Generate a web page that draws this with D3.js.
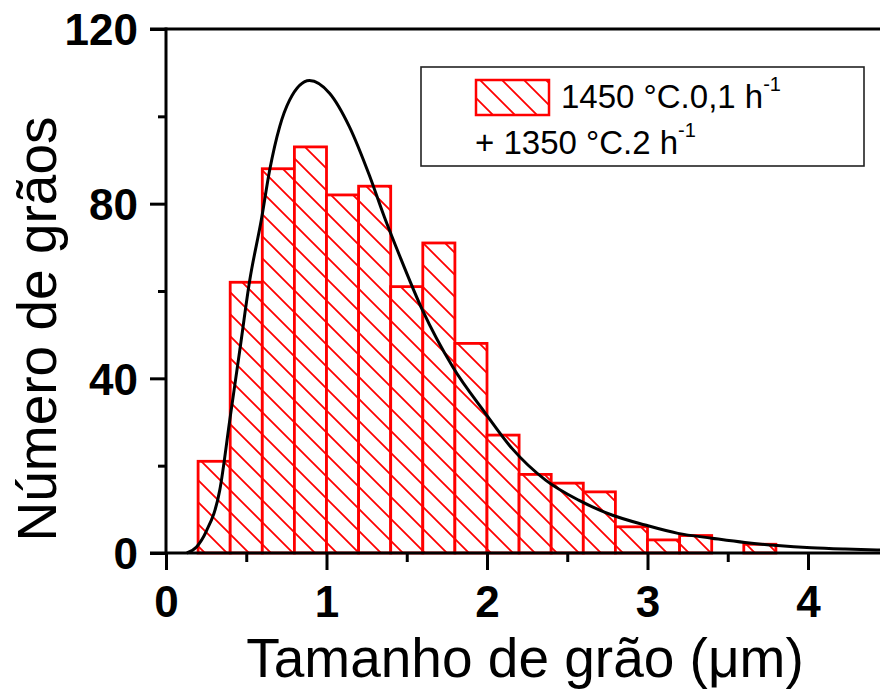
<!DOCTYPE html>
<html>
<head>
<meta charset="utf-8">
<script src="https://cdn.jsdelivr.net/npm/d3@7"></script>
<style>
  html, body { margin: 0; padding: 0; background: #fff; }
  svg { display: block; }
  text { font-family: "Liberation Sans", Arial, Helvetica, sans-serif; }
</style>
</head>
<body>
<svg id="chart" width="880" height="691"></svg>
<script>
// Histogram bins (lower edge, µm), bin width 0.2 µm
const binStarts = [0.2, 0.4, 0.6, 0.8, 1.0, 1.2, 1.4, 1.6, 1.8, 2.0, 2.2, 2.4, 2.6, 2.8, 3.0, 3.2, 3.4, 3.6];
const binCounts = [21, 62, 88, 93, 82, 84, 61, 71, 48, 27, 18, 16, 14, 6, 3, 4, 0, 2];
const binWidth = 0.2;

// Fitted distribution curve (size µm, count)
const fitX = [0.13, 0.19, 0.25, 0.335, 0.398, 0.46, 0.522, 0.594, 0.646, 0.708, 0.77, 0.894,
              1.019, 1.143, 1.267, 1.36, 1.453, 1.598, 1.785, 1.99, 2.157, 2.365, 2.571,
              2.778, 2.986, 3.19, 3.40, 3.607, 3.81, 4.02, 4.23, 4.43, 4.6];
const fitY = [0, 1.4, 4.9, 14.4, 30.6, 46.5, 62.5, 76.3, 87.7, 97.6, 103.7, 108.2,
              105.3, 97.6, 86.5, 77.0, 68.3, 55.6, 42.7, 32.0, 23.9, 16.7, 12.1,
              8.7, 6.4, 4.5, 3.4, 2.4, 1.7, 1.2, 0.9, 0.7, 0.6];

const xTicks = [0, 1, 2, 3, 4];
const xMinorTicks = [0.5, 1.5, 2.5, 3.5];
const yTicks = [0, 40, 80, 120];
const yMinorTicks = [20, 60, 100];

const xTitle = "Tamanho de grão (\u03BCm)";
const yTitle = "Número de grãos";
const legendLine1 = "1450 °C.0,1 h";
const legendLine2 = "+ 1350 °C.2 h";
const legendSup = "-1";

const svg = d3.select("#chart");
const W = 880;

const x = d3.scaleLinear().domain([0, 4]).range([166, 808]);
const y = d3.scaleLinear().domain([0, 120]).range([553, 29]);

const red = "#ff0000";

// Diagonal hatch pattern
const defs = svg.append("defs");
const s = 22;
const pat = defs.append("pattern")
  .attr("id", "hatch")
  .attr("patternUnits", "userSpaceOnUse")
  .attr("width", s).attr("height", s)
  .attr("x", 4).attr("y", 0);
pat.append("rect").attr("width", s).attr("height", s).attr("fill", "#fff");
pat.append("path")
  .attr("d", `M0,0 L${s},${s} M${-s/2},${s/2} L${s/2},${s*1.5} M${s/2},${-s/2} L${s*1.5},${s/2}`)
  .attr("stroke", red).attr("stroke-width", 1.8).attr("fill", "none");

// Bars
const bars = binStarts.map((b, i) => ({ x0: b, x1: b + binWidth, n: binCounts[i] }))
  .filter(d => d.n > 0);
svg.append("g").selectAll("rect")
  .data(bars)
  .join("rect")
  .attr("x", d => x(d.x0))
  .attr("y", d => y(d.n))
  .attr("width", d => x(d.x1) - x(d.x0))
  .attr("height", d => y(0) - y(d.n))
  .attr("fill", "url(#hatch)")
  .attr("stroke", red)
  .attr("stroke-width", 2.8);

// Fitted curve
const fit = fitX.map((v, i) => [v, fitY[i]]);
svg.append("path")
  .datum(fit)
  .attr("d", d3.line().x(d => x(d[0])).y(d => y(d[1])).curve(d3.curveMonotoneX))
  .attr("fill", "none")
  .attr("stroke", "#000")
  .attr("stroke-width", 3);

// Axes
const axisW = 3;
// left axis
const gy = svg.append("g").attr("transform", `translate(${x(0)},0)`)
  .call(d3.axisLeft(y).tickValues(yTicks).tickSize(16).tickSizeOuter(0).tickPadding(12)
    .tickFormat(d3.format("d")));
gy.select(".domain").remove();
gy.selectAll(".tick line").attr("stroke", "#000").attr("stroke-width", axisW);
gy.selectAll(".tick text")
  .attr("font-size", 44).attr("font-weight", "bold").attr("fill", "#000")
  .attr("font-family", "Liberation Sans, Arial, sans-serif")
  .attr("dy", "0.36em");
const gym = svg.append("g").attr("transform", `translate(${x(0)},0)`)
  .call(d3.axisLeft(y).tickValues(yMinorTicks).tickSize(8).tickFormat(""));
gym.select(".domain").remove();
gym.selectAll(".tick line").attr("stroke", "#000").attr("stroke-width", axisW);

// bottom axis
const gx = svg.append("g").attr("transform", `translate(0,${y(0)})`)
  .call(d3.axisBottom(x).tickValues(xTicks).tickSize(17).tickPadding(16)
    .tickFormat(d3.format("d")));
gx.select(".domain").remove();
gx.selectAll(".tick line").attr("stroke", "#000").attr("stroke-width", axisW);
gx.selectAll(".tick text")
  .attr("font-size", 44).attr("font-weight", "bold").attr("fill", "#000")
  .attr("font-family", "Liberation Sans, Arial, sans-serif");
const gxm = svg.append("g").attr("transform", `translate(0,${y(0)})`)
  .call(d3.axisBottom(x).tickValues(xMinorTicks).tickSize(9).tickFormat(""));
gxm.select(".domain").remove();
gxm.selectAll(".tick line").attr("stroke", "#000").attr("stroke-width", axisW);

// axis lines and top frame
svg.append("line").attr("x1", x(0)).attr("x2", x(0)).attr("y1", y(120) - 1.5).attr("y2", y(0) + 1.5)
  .attr("stroke", "#000").attr("stroke-width", axisW);
svg.append("line").attr("x1", x(0) - 16).attr("x2", W).attr("y1", y(0)).attr("y2", y(0))
  .attr("stroke", "#000").attr("stroke-width", axisW);
svg.append("line").attr("x1", x(0) - 16).attr("x2", W).attr("y1", y(120)).attr("y2", y(120))
  .attr("stroke", "#000").attr("stroke-width", axisW);

// Axis titles
svg.append("text")
  .attr("x", 525).attr("y", 677)
  .attr("text-anchor", "middle")
  .attr("font-size", 55)
  .attr("fill", "#000")
  .text(xTitle);
svg.append("text")
  .attr("transform", "translate(56,329) rotate(-90)")
  .attr("text-anchor", "middle")
  .attr("font-size", 55)
  .attr("fill", "#000")
  .text(yTitle);

// Legend
const lg = svg.append("g");
lg.append("rect")
  .attr("x", 421).attr("y", 67).attr("width", 443).attr("height", 99)
  .attr("fill", "#fff").attr("stroke", "#222").attr("stroke-width", 1.6);
lg.append("rect")
  .attr("x", 476).attr("y", 80).attr("width", 73).attr("height", 35)
  .attr("fill", "url(#hatch)").attr("stroke", red).attr("stroke-width", 2.5);
const t1 = lg.append("text").attr("x", 561).attr("y", 108).attr("font-size", 33).attr("fill", "#000");
t1.append("tspan").text(legendLine1);
t1.append("tspan").attr("font-size", 20).attr("dy", -17).text(legendSup);
const t2 = lg.append("text").attr("x", 475).attr("y", 154).attr("font-size", 33).attr("fill", "#000");
t2.append("tspan").text(legendLine2);
t2.append("tspan").attr("font-size", 20).attr("dy", -17).text(legendSup);
</script>
</body>
</html>
